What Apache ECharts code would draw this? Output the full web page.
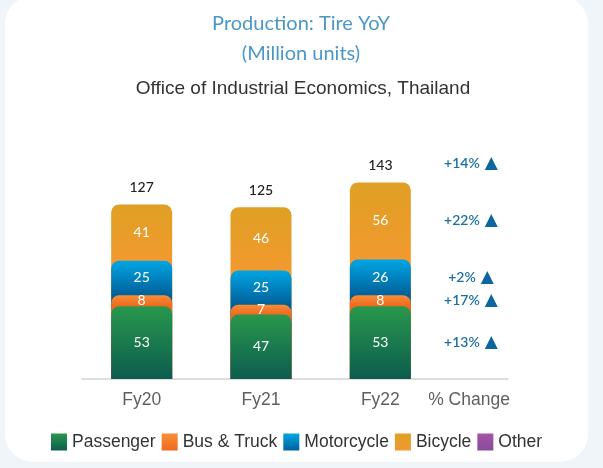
<!DOCTYPE html>
<html>
<head>
<meta charset="utf-8">
<script src="https://cdn.jsdelivr.net/npm/echarts@6/dist/echarts.min.js"></script>
<style>
html,body{margin:0;padding:0;background:#f0f5f9;}
.card{position:absolute;left:5px;top:-4px;width:583px;height:466px;background:#fff;border-radius:28px;}
#chart{position:absolute;left:0;top:0;width:603px;height:468px;}
</style>
</head>
<body>
<div class="card"></div>
<div id="chart"></div>
<script>
var years = ['Fy20', 'Fy21', 'Fy22'];
var passenger = [53, 47, 53];
var busTruck = [8, 7, 8];
var motorcycle = [25, 25, 26];
var bicycle = [41, 46, 56];
var other = [0, 0, 0];
var changeCategory = ['% Change'];
// Passenger, Bus & Truck, Motorcycle, Bicycle (Fy22 vs Fy21)
var changeLabels = ['+13%', '+17%', '+2%', '+22%'];
var changeTotal = '+14%';

var segs = [passenger, busTruck, motorcycle, bicycle];
var names = ['Passenger', 'Bus & Truck', 'Motorcycle', 'Bicycle'];
var colors = [
  ['#28984c', '#0c5c4e'],
  ['#f68f38', '#f0691f'],
  ['#00a6e4', '#01609a'],
  ['#dfa024', '#f2992f']
];

// running totals so each segment can sit behind the one below it
var cums = [];
segs.forEach(function (s, k) {
  cums.push(s.map(function (v, i) { return v + (k > 0 ? cums[k - 1][i] : 0); }));
});

function grad(top, bottom, frac) {
  return {
    type: 'linear', x: 0, y: 0, x2: 0, y2: 1,
    colorStops: [
      {offset: 0, color: top},
      {offset: frac, color: bottom},
      {offset: 1, color: bottom}
    ]
  };
}

var series = [];
segs.forEach(function (s, k) {
  var item = {
    name: names[k],
    type: 'bar',
    xAxisIndex: 0, yAxisIndex: 0,
    barWidth: 61,
    barGap: '-100%',
    z: 6 - k,
    itemStyle: {color: grad(colors[k][0], colors[k][1], 1), borderRadius: [8, 8, 0, 0]},
    data: cums[k].map(function (c, i) {
      return {value: c, itemStyle: {color: grad(colors[k][0], colors[k][1], s[i] / c)}};
    })
  };
  if (k === 3) {
    item.label = {show: true, position: 'top', distance: 10, color: '#222', fontSize: 14,
      fontFamily: 'Lato', fontWeight: 500};
  }
  series.push(item);
});

series.push({
  name: 'Other', type: 'bar', xAxisIndex: 0, yAxisIndex: 0, barWidth: 61, barGap: '-100%',
  itemStyle: {color: grad('#a653a6', '#8a4b9c', 1)}, data: other
});

// value labels, one stacked transparent bar per segment
segs.forEach(function (s, k) {
  series.push({
    name: '_lbl' + k, type: 'bar', stack: 'lbl', xAxisIndex: 0, yAxisIndex: 0,
    barWidth: 61, barGap: '-100%', z: 10,
    itemStyle: {color: 'transparent'},
    label: {show: true, position: 'inside', color: '#fff', fontSize: 14, fontFamily: 'Lato'},
    data: s
  });
});

// % change column, placed on the Fy22 segment levels
var rich = {
  p: {color: '#1b6fa3', fontSize: 14, fontWeight: 600, fontFamily: 'Lato'},
  t: {color: '#0a65a0', fontSize: 17, fontFamily: 'DejaVu Sans', padding: [0, 0, 0, 5]}
};
segs.forEach(function (s, k) {
  series.push({
    name: '_pct' + k, type: 'bar', stack: 'pct', xAxisIndex: 1, yAxisIndex: 1,
    barWidth: 61, barGap: '-100%', z: 10,
    itemStyle: {color: 'transparent'},
    label: {show: true, position: 'inside', offset: [-3, 0],
      formatter: '{p|' + changeLabels[k] + '}{t|▲}', rich: rich},
    data: [s[2]]
  });
});
series.push({
  name: '_pctTotal', type: 'bar', xAxisIndex: 1, yAxisIndex: 1,
  barWidth: 61, barGap: '-100%', z: 10,
  itemStyle: {color: 'transparent'},
  label: {show: true, position: 'top', distance: 10, offset: [-3, 0],
    formatter: '{p|' + changeTotal + '}{t|▲}', rich: rich},
  data: [cums[3][2]]
});

var axisLine = {show: true, lineStyle: {color: '#d4d4d4', width: 1.5}};
var axisLabel = {color: '#5f5f5f', fontSize: 17.5, fontFamily: 'Liberation Sans', margin: 12};

var option = {
  animation: false,
  title: [{
    text: 'Production: Tire YoY\n(Million units)',
    left: 296, top: 4, textAlign: 'center',
    textStyle: {color: '#4b97c8', fontSize: 20, fontWeight: 'normal', fontFamily: 'Lato', lineHeight: 30}
  }, {
    text: 'Office of Industrial Economics, Thailand',
    left: 298, top: 72, textAlign: 'center',
    textStyle: {color: '#333', fontSize: 19, fontWeight: 'normal', fontFamily: 'Liberation Sans', lineHeight: 24}
  }],
  legend: {
    data: ['Passenger', 'Bus & Truck', 'Motorcycle', 'Bicycle', 'Other'],
    left: 51, top: 433, padding: 0,
    icon: 'rect', itemWidth: 16, itemHeight: 17, itemGap: 6,
    textStyle: {color: '#333', fontSize: 17.5, fontFamily: 'Liberation Sans'},
    selectedMode: false
  },
  grid: [
    {left: 82, width: 358, top: 159, bottom: 89},
    {left: 440, width: 68, top: 159, bottom: 89}
  ],
  xAxis: [{
    gridIndex: 0, type: 'category', data: years,
    axisTick: {show: false}, axisLine: axisLine, axisLabel: axisLabel
  }, {
    gridIndex: 1, type: 'category', data: changeCategory,
    axisTick: {show: false}, axisLine: axisLine,
    axisLabel: {color: '#5f5f5f', fontSize: 17.5, fontFamily: 'Liberation Sans', margin: 12,
      formatter: function (v) { return '{a|' + v + '}'; },
      rich: {a: {color: '#5f5f5f', fontSize: 17.5, fontFamily: 'Liberation Sans', padding: [0, 10, 0, 0]}}}
  }],
  yAxis: [
    {gridIndex: 0, type: 'value', min: 0, max: 160, show: false},
    {gridIndex: 1, type: 'value', min: 0, max: 160, show: false}
  ],
  series: series
};

var myChart = echarts.init(document.getElementById('chart'));
myChart.setOption(option);
window.addEventListener('resize', function () {
  myChart.resize();
});
</script>
</body>
</html>
